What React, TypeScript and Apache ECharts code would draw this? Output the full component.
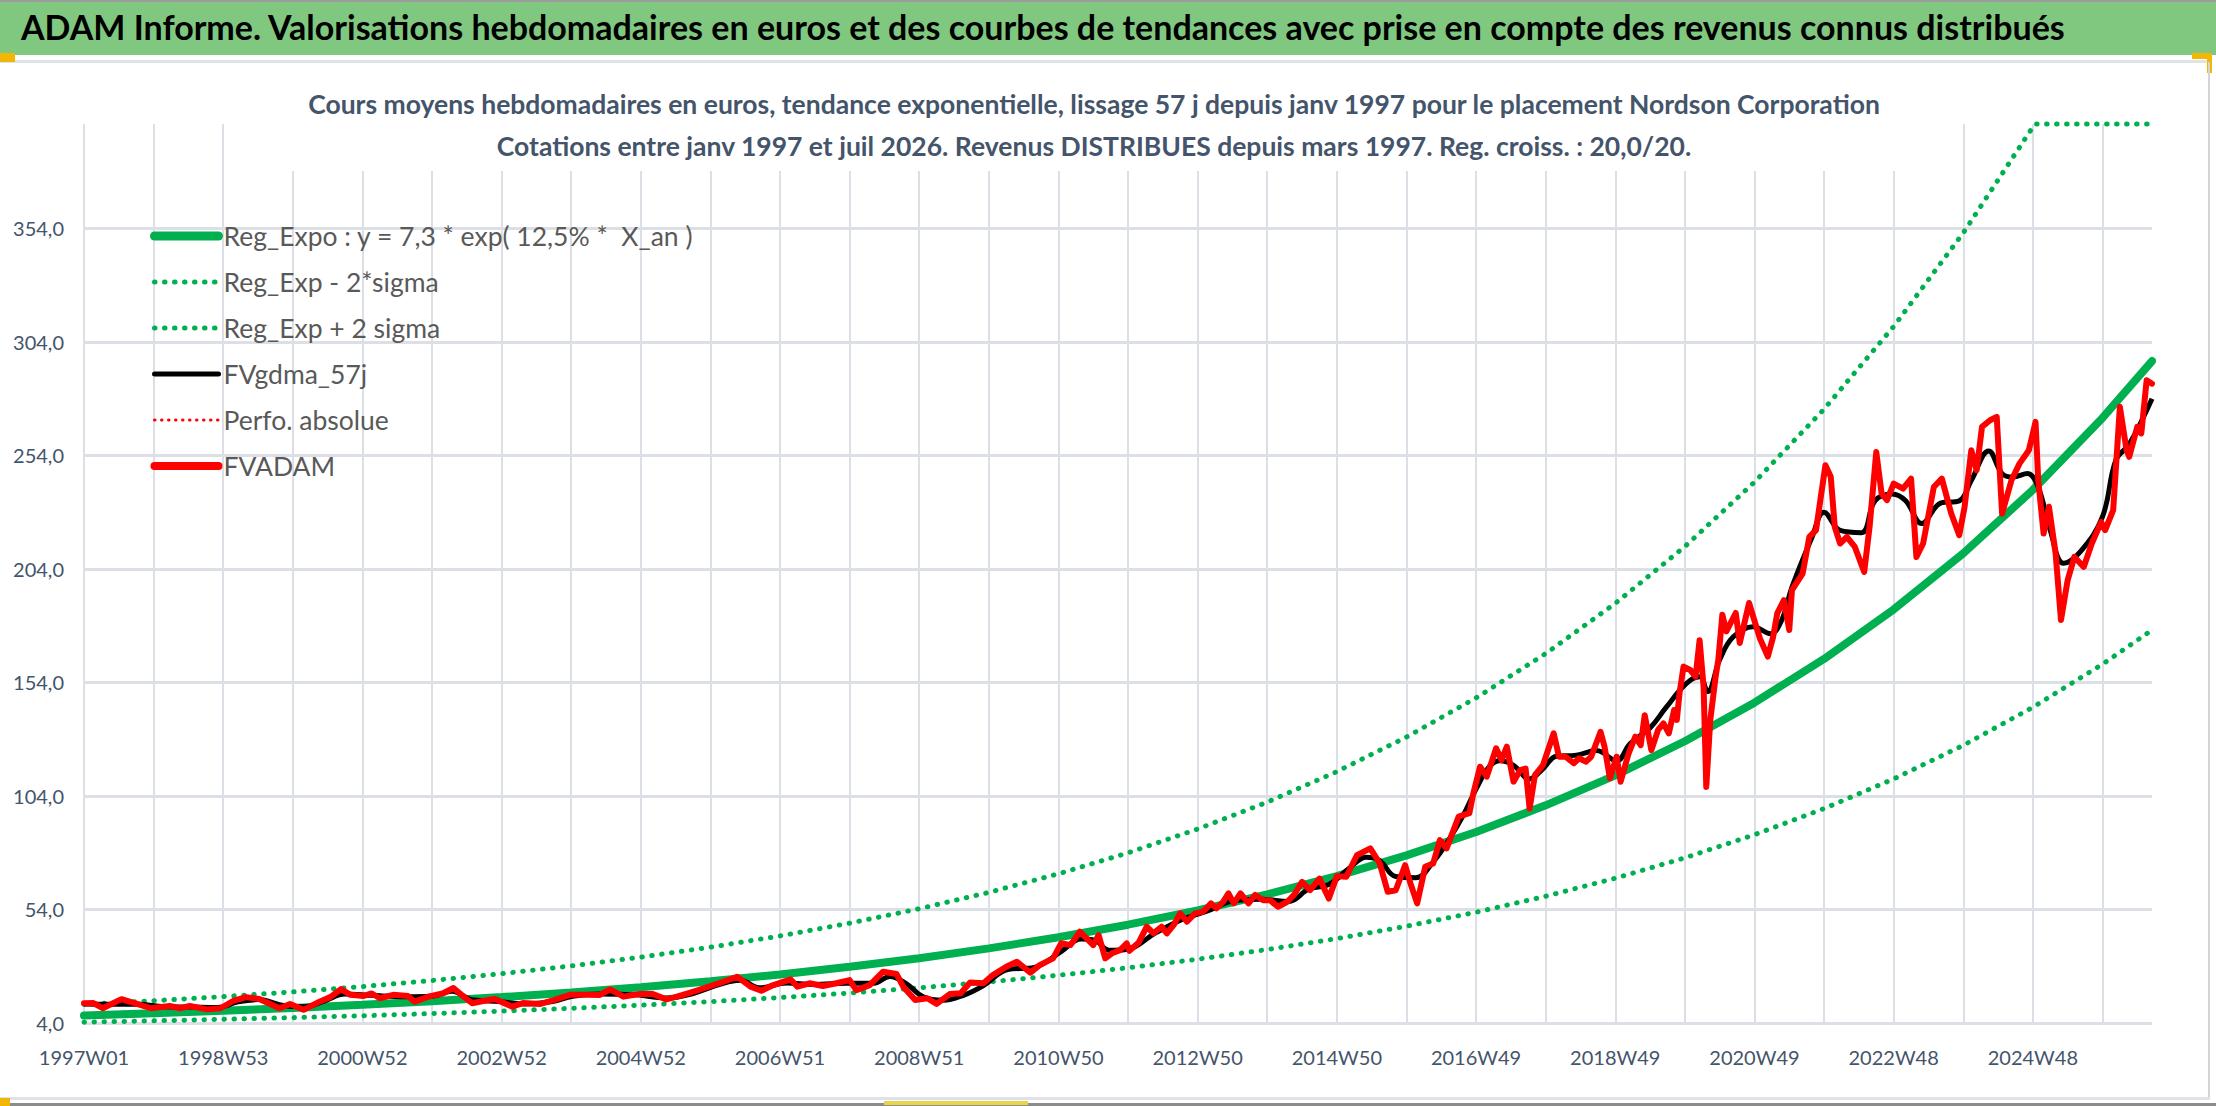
import { useEffect, useRef } from 'react';
import * as echarts from 'echarts';
import type { ECharts } from 'echarts';

const FONT = "Lato, 'Noto Sans', sans-serif";

const BANNER_TITLE =
    'ADAM Informe. Valorisations hebdomadaires en euros et des courbes de tendances avec prise en compte des revenus connus distribués';
const CHART_TITLE = [
    'Cours moyens hebdomadaires en euros, tendance exponentielle, lissage 57 j depuis janv 1997 pour le placement Nordson Corporation',
    'Cotations entre janv 1997 et juil 2026. Revenus DISTRIBUES depuis mars 1997. Reg. croiss. : 20,0/20.',
];

const SERIES_NAMES = [
    'Reg_Expo : y = 7,3 * exp( 12,5% *  X_an )',
    'Reg_Exp - 2*sigma',
    'Reg_Exp + 2 sigma',
    'FVgdma_57j',
    'Perfo. absolue',
    'FVADAM',
];

// semaines ISO depuis 1997W01 (lundi 30/12/1996)
const WEEK_COUNT = 1546;
const isoWeekLabel = (d: Date) => {
    const thu = new Date(d.getTime() + 3 * 86400000);
    const year = thu.getUTCFullYear();
    const week = Math.floor((thu.getTime() - Date.UTC(year, 0, 1)) / 86400000 / 7) + 1;
    return `${year}W${String(week).padStart(2, '0')}`;
};
const categories = Array.from({ length: WEEK_COUNT }, (_, i) =>
    isoWeekLabel(new Date(Date.UTC(1996, 11, 30 + 7 * i)))
);

// courbes de tendance, un point par an (index de semaine, valeur)
const regExpo: [number, number][] = [
    [0, 7.3], [52, 8.27], [104, 9.37], [156, 10.61], [208, 12.01], [260, 13.61], [312, 15.41],
    [364, 17.46], [416, 19.78], [468, 22.4], [520, 25.37], [572, 28.74], [624, 32.55], [676, 36.87],
    [728, 41.76], [780, 47.3], [832, 53.57], [884, 60.68], [936, 68.73], [988, 77.84], [1040, 88.17],
    [1092, 99.87], [1144, 113.11], [1196, 128.12], [1248, 145.12], [1300, 164.37], [1352, 186.17],
    [1404, 210.87], [1456, 238.84], [1508, 270.53], [1545, 295.6],
];
const regLow: [number, number][] = [
    [0, 4.37], [52, 4.95], [104, 5.61], [156, 6.35], [208, 7.2], [260, 8.15], [312, 9.23],
    [364, 10.46], [416, 11.85], [468, 13.42], [520, 15.2], [572, 17.21], [624, 19.5], [676, 22.08],
    [728, 25.01], [780, 28.33], [832, 32.09], [884, 36.35], [936, 41.17], [988, 46.63], [1040, 52.81],
    [1092, 59.82], [1144, 67.76], [1196, 76.75], [1248, 86.93], [1300, 98.46], [1352, 111.52],
    [1404, 126.31], [1456, 143.07], [1508, 162.05], [1545, 177.1],
];
const regHigh: [number, number][] = [
    [0, 12.19], [52, 13.8], [104, 15.63], [156, 17.71], [208, 20.06], [260, 22.72], [312, 25.73],
    [364, 29.15], [416, 33.01], [468, 37.39], [520, 42.35], [572, 47.97], [624, 54.34], [676, 61.54],
    [728, 69.71], [780, 78.96], [832, 89.43], [884, 101.29], [936, 114.73], [988, 129.95], [1040, 147.19],
    [1092, 166.72], [1144, 188.84], [1196, 213.89], [1248, 242.26], [1300, 274.4], [1352, 310.8],
    [1404, 352.03], [1456, 398.7], [1458, 400], [1545, 400],
];

// cours hebdomadaires
const fvadam: [number, number][] = [
    [0, 12.7], [7, 12.8], [14, 10.5], [28, 14.5], [42, 12.0], [50, 10.5], [64, 11.5], [72, 10.5],
    [79, 11.5], [92, 10.0], [102, 10.5], [112, 13.9], [121, 15.4], [131, 14.6], [146, 10.5], [154, 12.4],
    [164, 9.8], [176, 13.4], [184, 15.4], [192, 18.9], [199, 16.4], [209, 15.9], [215, 17.0], [221, 14.9],
    [231, 16.4], [242, 15.9], [247, 13.4], [258, 15.7], [268, 17.0], [276, 19.4], [282, 16.4], [290, 12.7],
    [300, 13.9], [307, 14.6], [320, 11.2], [328, 12.8], [341, 12.4], [351, 14.1], [363, 16.4], [376, 16.4],
    [385, 16.3], [393, 18.8], [403, 15.6], [415, 16.8], [425, 16.8], [435, 14.4], [443, 15.6], [453, 17.4],
    [463, 19.3], [478, 22.2], [488, 24.4], [498, 20.0], [506, 18.2], [515, 20.7], [528, 23.2], [533, 20.0],
    [542, 21.5], [552, 20.3], [562, 21.5], [572, 22.9], [577, 18.5], [587, 20.7], [597, 26.6], [607, 25.6],
    [612, 20.0], [621, 14.1], [630, 14.9], [637, 12.4], [647, 16.8], [655, 17.1], [662, 21.8], [672, 21.5],
    [679, 25.1], [689, 28.8], [697, 31.0], [707, 26.2], [714, 29.5], [724, 32.5], [730, 39.1], [737, 38.3],
    [744, 44.2], [749, 41.3], [754, 38.3], [758, 42.7], [763, 32.5], [768, 34.7], [774, 36.1], [779, 39.1],
    [781, 35.8], [788, 39.5], [794, 46.4], [799, 43.5], [805, 46.4], [809, 43.5], [814, 47.1], [819, 52.3],
    [824, 48.6], [830, 52.3], [836, 53.0], [842, 56.7], [846, 54.5], [851, 57.4], [855, 61.1], [859, 56.7],
    [864, 61.1], [870, 56.7], [875, 60.4], [881, 58.1], [886, 58.1], [892, 55.2], [899, 57.4], [904, 60.4],
    [910, 66.2], [916, 62.5], [923, 67.6], [930, 58.8], [936, 68.7], [943, 68.4], [951, 77.9], [961, 80.9],
    [968, 74.3], [974, 61.8], [980, 62.5], [987, 73.5], [991, 65.5], [996, 56.7], [1002, 72.8], [1008, 74.3],
    [1013, 84.6], [1018, 80.9], [1027, 94.9], [1035, 96.4], [1038, 105.2], [1043, 116.9], [1048, 112.5],
    [1055, 125.0], [1059, 119.8], [1063, 125.7], [1068, 110.3], [1073, 115.4], [1077, 116.1], [1080, 98.5],
    [1084, 113.2], [1090, 117.6], [1098, 131.6], [1102, 121.3], [1107, 121.3], [1113, 118.4], [1117, 120.6],
    [1122, 119.1], [1126, 121.3], [1133, 132.3], [1136, 125.7], [1140, 111.8], [1145, 121.3], [1148, 110.3],
    [1154, 122.8], [1159, 130.1], [1163, 126.4], [1166, 139.6], [1171, 124.2], [1176, 133.1], [1180, 136.0],
    [1184, 131.6], [1188, 141.9], [1190, 137.5], [1192, 149.2], [1195, 161.0], [1200, 159.5], [1204, 156.6],
    [1207, 172.6], [1210, 152.1], [1212, 108.0], [1215, 137.5], [1219, 156.6], [1221, 164.0], [1224, 183.8],
    [1227, 176.5], [1234, 184.6], [1237, 171.4], [1244, 189.0], [1247, 183.1], [1252, 173.5], [1258, 165.4],
    [1262, 174.2], [1265, 184.4], [1270, 190.3], [1274, 177.1], [1276, 194.7], [1284, 202.0], [1289, 218.1],
    [1294, 221.1], [1301, 249.7], [1305, 244.6], [1308, 222.5], [1312, 215.2], [1317, 218.1], [1323, 213.7],
    [1330, 202.7], [1334, 222.5], [1339, 255.5], [1343, 237.2], [1347, 234.3], [1352, 241.6], [1359, 239.4],
    [1365, 243.8], [1369, 209.3], [1374, 215.2], [1382, 240.1], [1388, 243.8], [1395, 228.4], [1401, 218.9],
    [1405, 231.4], [1410, 256.3], [1414, 247.5], [1418, 266.6], [1424, 269.5], [1429, 271.0], [1433, 228.4],
    [1440, 243.1], [1446, 250.4], [1453, 256.3], [1458, 268.8], [1460, 243.1], [1464, 219.6], [1468, 231.4],
    [1473, 210.8], [1477, 181.5], [1482, 199.1], [1487, 209.3], [1494, 204.9], [1500, 215.2], [1507, 224.7],
    [1510, 221.1], [1516, 229.9], [1521, 275.4], [1526, 256.3], [1528, 253.4], [1534, 266.6], [1537, 263.7],
    [1541, 287.1], [1545, 285.6],
];

// moyenne mobile 57 j
const fvgdma: [number, number][] = [
    [0, 12.4], [20, 12.3], [40, 12.3], [60, 11.2], [80, 11.0], [100, 10.8], [115, 13.3], [130, 14.3],
    [150, 11.6], [165, 11.2], [180, 13.8], [195, 16.8], [215, 16.2], [240, 15.6], [260, 15.8], [275, 18.0],
    [290, 14.2], [310, 13.5], [330, 12.4], [350, 13.5], [365, 15.8], [385, 16.8], [410, 16.5], [435, 15.0],
    [455, 17.0], [475, 21.0], [490, 22.8], [505, 19.5], [525, 21.6], [545, 21.0], [570, 21.5], [590, 21.5],
    [602, 24.5], [614, 21.5], [627, 15.5], [642, 14.0], [657, 16.2], [672, 20.5], [690, 27.5], [710, 28.5],
    [730, 35.5], [745, 41.0], [755, 40.5], [766, 36.0], [780, 36.5], [800, 43.5], [820, 49.5], [840, 53.5],
    [860, 58.0], [880, 58.5], [900, 57.5], [915, 63.0], [930, 65.0], [945, 72.0], [958, 77.0], [968, 75.5],
    [980, 68.5], [995, 68.0], [1008, 75.0], [1020, 85.0], [1030, 95.0], [1040, 107.0], [1050, 117.0],
    [1058, 119.5], [1068, 117.5], [1080, 111.5], [1090, 116.0], [1100, 121.5], [1115, 122.0], [1130, 124.0],
    [1145, 119.5], [1155, 127.0], [1170, 134.0], [1182, 143.0], [1197, 153.5], [1207, 156.5], [1213, 150.0],
    [1222, 164.0], [1232, 174.0], [1247, 178.5], [1260, 175.5], [1268, 181.0], [1276, 196.0], [1291, 218.0],
    [1300, 229.0], [1312, 221.0], [1328, 220.0], [1338, 234.0], [1351, 237.0], [1361, 234.0], [1373, 224.0],
    [1387, 233.0], [1401, 234.0], [1410, 243.0], [1423, 256.0], [1433, 246.0], [1441, 244.5], [1452, 246.0],
    [1460, 240.0], [1469, 221.0], [1479, 206.5], [1492, 212.0], [1508, 227.0], [1518, 252.0], [1528, 259.0],
    [1545, 279.0],
];

const GREEN = '#00B050';
const RED = '#FF0000';
const AXIS_TEXT = '#44546A';
const GRID_LINE = '#DCE0E6';

const App = () => {
    const chartRef = useRef<HTMLDivElement>(null);

    useEffect(() => {
        document.body.style.margin = '0';
        if (!chartRef.current) return;
        const chart: ECharts = echarts.init(chartRef.current, null, { renderer: 'svg' });

        const dotted = (color: string, width: number, gap: number) => ({
            color, width, type: [0.5, gap], cap: 'round' as const,
        });

        chart.setOption({
            animation: false,
            backgroundColor: '#fff',
            title: [
                {
                    text: BANNER_TITLE,
                    left: 21,
                    top: 9,
                    padding: 0,
                    textStyle: { fontFamily: FONT, fontSize: 34, fontWeight: 'bold', color: '#000' },
                },
                {
                    // texte centré sur x = 1094 (left + padding)
                    text: CHART_TITLE.join('\n'),
                    left: 1064,
                    textAlign: 'center',
                    top: 79,
                    padding: [4, 30],
                    backgroundColor: '#fff',
                    textStyle: {
                        fontFamily: FONT, fontSize: 26.5, fontWeight: 'bold', color: AXIS_TEXT, lineHeight: 42,
                    },
                },
            ],
            graphic: [
                { type: 'rect', z: -10, shape: { x: 0, y: 0, width: 2216, height: 55 }, style: { fill: '#80C880' } },
                { type: 'rect', z: -9, shape: { x: 0, y: 0, width: 2216, height: 2 }, style: { fill: '#9c9c9c' } },
                { type: 'rect', z: -9, shape: { x: 0, y: 60, width: 2210, height: 3 }, style: { fill: '#DFE2E6' } },
                { type: 'rect', z: -9, shape: { x: 0, y: 53, width: 15, height: 9 }, style: { fill: '#F2B705' } },
                { type: 'rect', z: -9, shape: { x: 2192, y: 53, width: 20, height: 6 }, style: { fill: '#F2B705' } },
                { type: 'rect', z: -9, shape: { x: 2207, y: 53, width: 5, height: 20 }, style: { fill: '#F2B705' } },
                { type: 'rect', z: -9, shape: { x: 2208, y: 62, width: 2, height: 1036 }, style: { fill: '#D4D4D4' } },
                { type: 'rect', z: -9, shape: { x: 0, y: 1097, width: 2210, height: 3 }, style: { fill: '#DFE2E6' } },
                { type: 'rect', z: -9, shape: { x: 0, y: 1103, width: 2216, height: 3 }, style: { fill: '#8c8c8c' } },
                { type: 'rect', z: -9, shape: { x: 0, y: 1098, width: 10, height: 8 }, style: { fill: '#F2B705' } },
                { type: 'rect', z: -9, shape: { x: 884, y: 1101, width: 144, height: 4 }, style: { fill: '#E8D44D' } },
            ],
            legend: {
                orient: 'vertical',
                left: 145,
                top: 216,
                itemWidth: 64,
                itemHeight: 14,
                itemGap: 16,
                selectedMode: false,
                itemStyle: { opacity: 0 },
                textStyle: { fontFamily: FONT, fontSize: 26.5, lineHeight: 30, color: '#595959' },
                data: [
                    { name: SERIES_NAMES[0], lineStyle: { width: 9, cap: 'round' } },
                    { name: SERIES_NAMES[1], lineStyle: { width: 5 } },
                    { name: SERIES_NAMES[2], lineStyle: { width: 5 } },
                    { name: SERIES_NAMES[3], lineStyle: { width: 5, cap: 'round' } },
                    { name: SERIES_NAMES[4], lineStyle: { width: 3 } },
                    { name: SERIES_NAMES[5], lineStyle: { width: 8, cap: 'round' } },
                ],
            },
            grid: { left: 84, right: 64, top: 124, bottom: 83 },
            xAxis: {
                type: 'category',
                data: categories,
                boundaryGap: false,
                axisLine: { show: false },
                axisTick: { show: false },
                axisLabel: { interval: 103, margin: 24, fontFamily: FONT, fontSize: 20, color: AXIS_TEXT },
                splitLine: { show: true, interval: 51, lineStyle: { color: GRID_LINE, width: 2 } },
            },
            yAxis: {
                type: 'value',
                min: 4,
                max: 400,
                interval: 50,
                axisLine: { show: false },
                axisTick: { show: false },
                axisLabel: {
                    showMaxLabel: false,
                    margin: 20,
                    fontFamily: FONT,
                    fontSize: 20,
                    color: AXIS_TEXT,
                    formatter: (v: number) => v.toFixed(1).replace('.', ','),
                },
                splitLine: { showMaxLine: false, lineStyle: { color: GRID_LINE, width: 3 } },
            },
            series: [
                {
                    name: SERIES_NAMES[0], type: 'line', data: regExpo, symbol: 'none', clip: false,
                    itemStyle: { color: GREEN }, lineStyle: { color: GREEN, width: 8, cap: 'round' },
                },
                {
                    name: SERIES_NAMES[1], type: 'line', data: regLow, symbol: 'none', clip: false,
                    itemStyle: { color: GREEN }, lineStyle: dotted(GREEN, 5, 9.5),
                },
                {
                    name: SERIES_NAMES[2], type: 'line', data: regHigh, symbol: 'none', clip: false,
                    itemStyle: { color: GREEN }, lineStyle: dotted(GREEN, 5, 9.5),
                },
                {
                    name: SERIES_NAMES[3], type: 'line', data: fvgdma, symbol: 'none', smooth: 0.4,
                    itemStyle: { color: '#000' }, lineStyle: { color: '#000', width: 5, join: 'round' },
                },
                {
                    name: SERIES_NAMES[4], type: 'line', data: fvadam, symbol: 'none',
                    itemStyle: { color: RED }, lineStyle: dotted(RED, 3, 6.5),
                },
                {
                    name: SERIES_NAMES[5], type: 'line', data: fvadam, symbol: 'none',
                    itemStyle: { color: RED }, lineStyle: { color: RED, width: 6, join: 'round', cap: 'round' },
                },
            ],
        });

        return () => {
            chart.dispose();
        };
    }, []);

    return <div ref={chartRef} style={{ width: '2216px', height: '1106px' }} />;
};

export default App;
